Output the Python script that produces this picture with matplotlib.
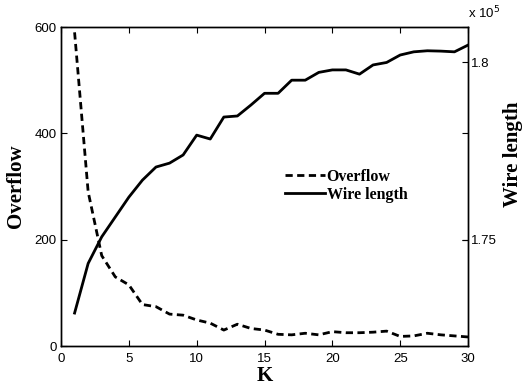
import matplotlib
matplotlib.use("Agg")
import matplotlib.pyplot as plt
from matplotlib.ticker import FuncFormatter

K = list(range(1, 31))
overflow = [590, 290, 170, 130, 115, 78, 74, 60, 58, 49,
            43, 30, 41, 33, 30, 22, 21, 24, 21, 27,
            25, 25, 26, 28, 18, 19, 24, 21, 19, 17]
wirelength = [172930, 174330, 175080, 175640, 176200, 176680, 177050, 177160, 177390, 177950,
              177840, 178460, 178490, 178800, 179130, 179130, 179500, 179500, 179720, 179790,
              179790, 179670, 179930, 180000, 180210, 180300, 180330, 180320, 180300, 180490]
left_ticks = [0, 200, 400, 600]
right_ticks = [1.75e5, 1.8e5]
x_ticks = [0, 5, 10, 15, 20, 25, 30]

plt.rcParams['font.family'] = ['Liberation Sans', 'DejaVu Sans']
label_font = dict(family='Liberation Serif', weight='bold')

fig = plt.figure(figsize=(5.22, 3.86), dpi=100)
ax = fig.add_axes([0.1169, 0.1036, 0.7797, 0.8264])
ax2 = ax.twinx()

l1, = ax.plot(K, overflow, color='black', lw=2.0, dashes=(2.6, 1.6), label='Overflow')
l2, = ax2.plot(K, wirelength, color='black', lw=2.0, label='Wire length')

ax.set_xlim(0, 30)
ax.set_ylim(0, 600)
ax2.set_ylim(1.72e5, 1.81e5)
ax.set_xticks(x_ticks)
ax.set_yticks(left_ticks)
ax2.set_yticks(right_ticks)
ax2.yaxis.set_major_formatter(FuncFormatter(lambda v, p: ('%g' % (v / 1e5))))

for a in (ax, ax2):
    for s in a.spines.values():
        s.set_linewidth(1.0)
ax.tick_params(axis='both', direction='in', length=4, width=0.8, labelsize=9.5,
               top=True, right=True, labelright=False, pad=3)
ax.tick_params(axis='x', pad=5)
ax2.tick_params(axis='y', direction='in', length=4, width=0.8, labelsize=9.5, pad=2)

ax.set_xlabel('K', fontsize=15, labelpad=1, **label_font)
ax.set_ylabel('Overflow', fontsize=15, labelpad=6, **label_font)
fig.text(0.983, 0.60, 'Wire length', rotation=90, ha='center', va='center',
         fontsize=15, **label_font)
fig.text(0.897, 0.945, r'x 10$^5$', fontsize=9.5, ha='left', va='bottom')

leg = ax2.legend([l1, l2], ['Overflow', 'Wire length'], loc='upper left',
                 bbox_to_anchor=(0.55, 0.555), frameon=False, borderpad=0,
                 borderaxespad=0, handlelength=2.5, handletextpad=0.12,
                 labelspacing=0.12,
                 prop=dict(family='Liberation Serif', weight='bold', size=11.5))

fig.savefig('out.png', dpi=100)
